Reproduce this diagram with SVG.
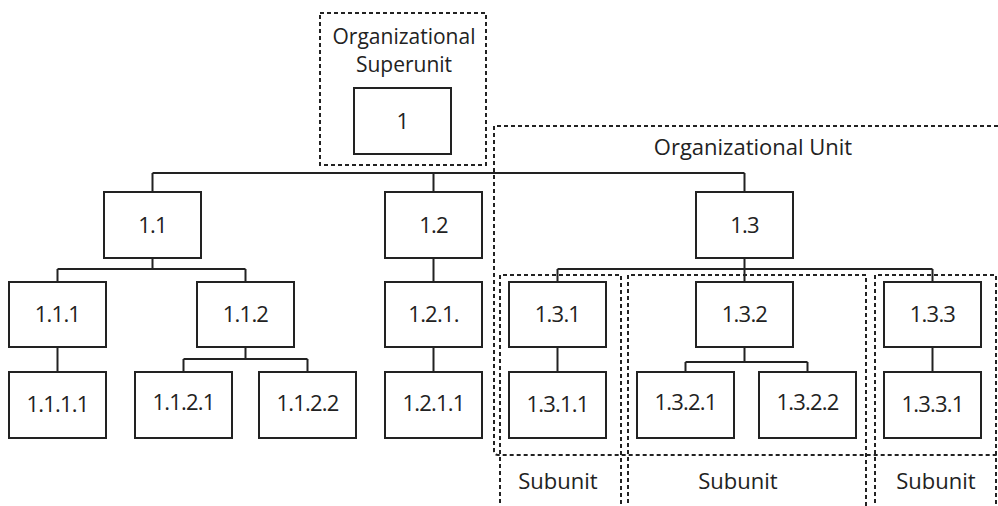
<svg xmlns="http://www.w3.org/2000/svg" width="998" height="506" viewBox="0 0 998 506">
<style>
.box{fill:#fff;stroke:#222;stroke-width:2}
.con{fill:none;stroke:#222;stroke-width:2}
.dash{fill:none;stroke:#222;stroke-width:2;stroke-dasharray:4 3}
.lbl{font-family:"Open Sans","Noto Sans",sans-serif;font-size:22px;letter-spacing:-0.8px;fill:#222;text-anchor:middle}
.ann{font-family:"Open Sans","Noto Sans",sans-serif;font-size:22px;fill:#222;text-anchor:middle}
.sup{font-size:21px}
</style>
<rect width="998" height="506" fill="#fff"/>
<g id="groups">
<rect class="dash" x="320" y="13" width="166" height="152"/>
<text class="ann sup" x="404" y="44">Organizational</text>
<text class="ann sup" x="404" y="72">Superunit</text>
<path class="dash" d="M998 126 H494 V451 Q494 455 498 455 H998"/>
<text class="ann" x="753" y="155">Organizational Unit</text>
<path class="dash" d="M500 510 V275 H621 V510"/>
<path class="dash" d="M628 510 V275 H866 V510"/>
<path class="dash" d="M875 510 V275 H996 V510"/>
<text class="ann" x="558" y="489">Subunit</text>
<text class="ann" x="738" y="489">Subunit</text>
<text class="ann" x="936" y="489">Subunit</text>
</g>
<g id="connectors">
<path class="con" d="M152.5 173 H744.5 M152.5 173 V192 M433.5 173 V192 M744.5 173 V192"/>
<path class="con" d="M152.5 258 V269 M57.5 269 H245.5 M57.5 269 V282 M245.5 269 V282"/>
<path class="con" d="M433.5 258 V282 M433.5 347 V372"/>
<path class="con" d="M744.5 258 V269 M557.5 269 H932.5 M557.5 269 V282 M744.5 269 V282 M932.5 269 V282"/>
<path class="con" d="M57.5 347 V372"/>
<path class="con" d="M245.5 347 V359 M183.5 359 H307.5 M183.5 359 V372 M307.5 359 V372"/>
<path class="con" d="M557.5 347 V372"/>
<path class="con" d="M744.5 347 V362 M685.5 362 H807.5 M685.5 362 V372 M807.5 362 V372"/>
<path class="con" d="M932.5 347 V372"/>
</g>
<g id="n1"><rect class="box" x="354" y="88" width="97" height="66"/><text class="lbl" x="402.5" y="129">1</text></g>
<g id="n1_1"><rect class="box" x="104" y="192" width="97" height="66"/><text class="lbl" x="152.5" y="233">1.1</text></g>
<g id="n1_2"><rect class="box" x="385" y="192" width="97" height="66"/><text class="lbl" x="433.5" y="233">1.2</text></g>
<g id="n1_3"><rect class="box" x="696" y="192" width="97" height="66"/><text class="lbl" x="744.5" y="233">1.3</text></g>
<g id="n1_1_1"><rect class="box" x="9" y="282" width="97" height="65"/><text class="lbl" x="57.5" y="322">1.1.1</text></g>
<g id="n1_1_2"><rect class="box" x="197" y="282" width="97" height="65"/><text class="lbl" x="245.5" y="322">1.1.2</text></g>
<g id="n1_2_1"><rect class="box" x="385" y="282" width="97" height="65"/><text class="lbl" x="433.5" y="322">1.2.1.</text></g>
<g id="n1_3_1"><rect class="box" x="509" y="282" width="97" height="65"/><text class="lbl" x="557.5" y="322">1.3.1</text></g>
<g id="n1_3_2"><rect class="box" x="696" y="282" width="97" height="65"/><text class="lbl" x="744.5" y="322">1.3.2</text></g>
<g id="n1_3_3"><rect class="box" x="884" y="282" width="97" height="65"/><text class="lbl" x="932.5" y="322">1.3.3</text></g>
<g id="n1_1_1_1"><rect class="box" x="9" y="372" width="97" height="66"/><text class="lbl" x="57.5" y="412">1.1.1.1</text></g>
<g id="n1_1_2_1"><rect class="box" x="135" y="372" width="97" height="66"/><text class="lbl" x="183.5" y="410">1.1.2.1</text></g>
<g id="n1_1_2_2"><rect class="box" x="259" y="372" width="97" height="66"/><text class="lbl" x="307.5" y="411">1.1.2.2</text></g>
<g id="n1_2_1_1"><rect class="box" x="385" y="372" width="97" height="66"/><text class="lbl" x="433.5" y="411">1.2.1.1</text></g>
<g id="n1_3_1_1"><rect class="box" x="509" y="372" width="97" height="66"/><text class="lbl" x="557.5" y="412">1.3.1.1</text></g>
<g id="n1_3_2_1"><rect class="box" x="637" y="372" width="97" height="66"/><text class="lbl" x="685.5" y="410">1.3.2.1</text></g>
<g id="n1_3_2_2"><rect class="box" x="759" y="372" width="97" height="66"/><text class="lbl" x="807.5" y="410">1.3.2.2</text></g>
<g id="n1_3_3_1"><rect class="box" x="884" y="372" width="97" height="66"/><text class="lbl" x="932.5" y="412">1.3.3.1</text></g>
</svg>
